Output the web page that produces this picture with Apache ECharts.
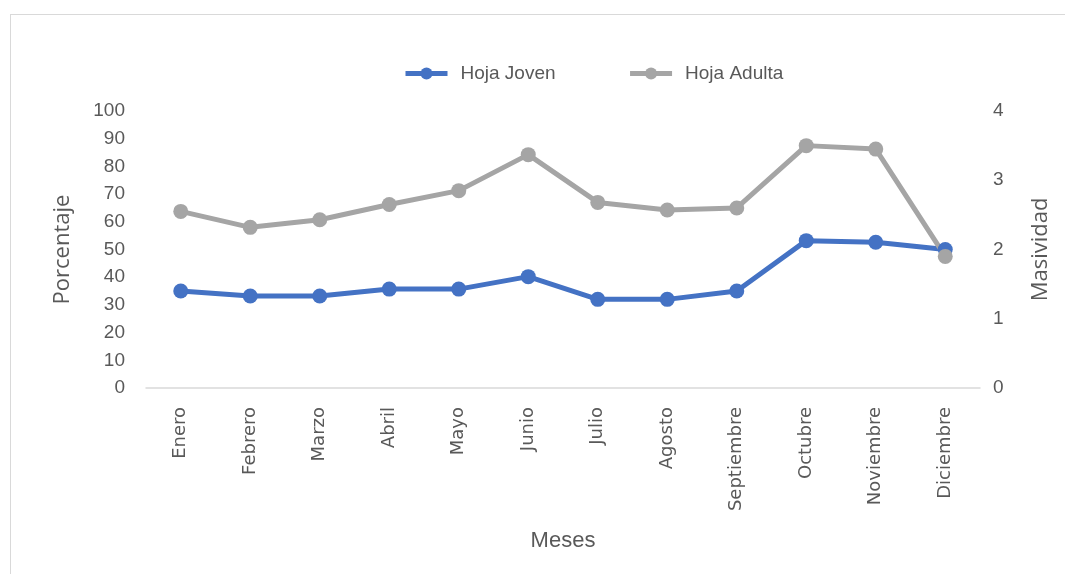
<!DOCTYPE html>
<html>
<head>
<meta charset="utf-8">
<script src="https://cdn.jsdelivr.net/npm/echarts@6/dist/echarts.min.js"></script>
<style>
html,body{margin:0;padding:0;background:#fff;}
#frame{position:absolute;left:10px;top:14px;width:1060px;height:570px;border:1px solid #d9d9d9;box-sizing:border-box;}
#chart{position:absolute;left:0;top:0;width:1065px;height:574px;}
</style>
</head>
<body>
<div id="frame"></div>
<div id="chart"></div>
<script>
const categories = ['Enero','Febrero','Marzo','Abril','Mayo','Junio','Julio','Agosto','Septiembre','Octubre','Noviembre','Diciembre'];
const hojaJoven = [35.0, 33.2, 33.2, 35.7, 35.7, 40.2, 32.0, 32.0, 35.0, 53.2, 52.6, 50.0];
const hojaAdulta = [2.55, 2.32, 2.43, 2.65, 2.85, 3.37, 2.68, 2.57, 2.60, 3.50, 3.45, 1.90];
const seriesNames = ['Hoja Joven', 'Hoja Adulta'];

const chart = echarts.init(document.getElementById('chart'));
const tickFont = {color:'#595959', fontSize:19, fontFamily:'Liberation Sans Narrow, Liberation Sans, sans-serif'};
chart.setOption({
  animation:false,
  legend:{
    top:59, left:398,
    itemWidth:42, itemHeight:15, itemGap:72,
    lineStyle:{width:5},
    textStyle:{color:'#595959', fontSize:19, fontFamily:'Liberation Sans Narrow, Liberation Sans, sans-serif', padding:[0,0,0,8]},
    data:seriesNames
  },
  grid:{left:146, right:85, top:111, bottom:186},
  xAxis:{
    type:'category', data:categories, boundaryGap:true,
    axisLine:{lineStyle:{color:'#d9d9d9', width:1.5}},
    axisTick:{show:false},
    axisLabel:{rotate:90, color:'#595959', fontSize:18, fontFamily:'DejaVu Sans, sans-serif', margin:19, interval:0},
    name:'Meses', nameLocation:'middle', nameGap:142,
    nameTextStyle:{color:'#595959', fontSize:22, fontFamily:'Liberation Sans Narrow, Liberation Sans, sans-serif'}
  },
  yAxis:[
    {type:'value', min:0, max:100, interval:10,
     axisLine:{show:false}, axisTick:{show:false}, splitLine:{show:false},
     axisLabel:Object.assign({margin:21}, tickFont),
     name:'Porcentaje', nameLocation:'middle', nameGap:72, nameRotate:90,
     nameTextStyle:{color:'#595959', fontSize:22, fontFamily:'Open Sans, sans-serif'}},
    {type:'value', min:0, max:4, interval:1, position:'right',
     axisLine:{show:false}, axisTick:{show:false}, splitLine:{show:false},
     axisLabel:Object.assign({margin:13}, tickFont),
     name:'Masividad', nameLocation:'middle', nameGap:50, nameRotate:90,
     nameTextStyle:{color:'#595959', fontSize:22, fontFamily:'Open Sans, sans-serif'}}
  ],
  series:[
    {name:seriesNames[0], type:'line', yAxisIndex:0, data:hojaJoven,
     symbol:'circle', symbolSize:15,
     lineStyle:{color:'#4472C4', width:5}, itemStyle:{color:'#4472C4'}},
    {name:seriesNames[1], type:'line', yAxisIndex:1, data:hojaAdulta,
     symbol:'circle', symbolSize:15,
     lineStyle:{color:'#A5A5A5', width:5}, itemStyle:{color:'#A5A5A5'}}
  ]
});
</script>
</body>
</html>
